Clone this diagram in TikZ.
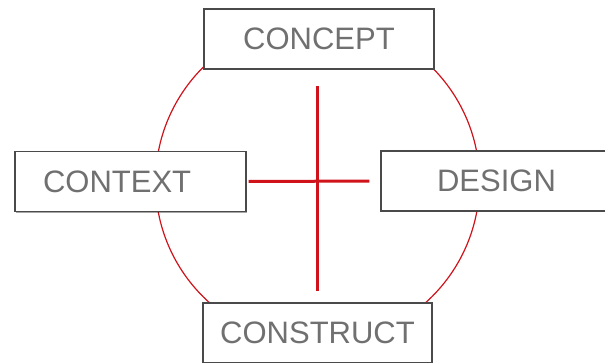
\documentclass[tikz,border=0pt]{standalone}
\usepackage{fontspec}
\setmainfont{Liberation Sans}
\usetikzlibrary{shadows}

\definecolor{ringred}{HTML}{D0121B}
\definecolor{boxgray}{HTML}{4A4A4A}
\definecolor{txtgray}{HTML}{707070}

\tikzset{
  phase/.style={draw=boxgray, line width=1.3pt, fill=white, minimum width=230pt, minimum height=60pt,
    inner sep=0pt, text=txtgray, font=\fontsize{31}{36}\selectfont,
    drop shadow={shadow xshift=1.2pt, shadow yshift=-1.2pt, fill=black, opacity=0.35}},
  ring/.style={draw=ringred, line width=1.2pt},
  bar/.style={draw=ringred, line width=3pt}
}

\begin{document}
\begin{tikzpicture}[x=1pt, y=-1pt]
\useasboundingbox (0,0) rectangle (605,362);
\coordinate (hub) at (317.5,182);
\draw[ring] (hub) circle (162pt);
\node (concept) at (319,39) [phase] {CONCEPT};
\node (context) at (130.5,181.5) [phase, minimum width=231pt, text width=175pt, align=left, inner xsep=28pt] {CONTEXT};
\node (design) at (496.5,181) [phase, minimum width=231pt] {DESIGN};
\node (construct) at (317.5,333) [phase, minimum width=229pt] {CONSTRUCT};
\draw[bar, shorten <=16pt, shorten >=11pt] (concept.south -| 317,0) -- (construct.north -| 317,0);
\draw[bar, shorten <=2pt, shorten >=11pt] (context.east) -- (design.west);
\end{tikzpicture}
\end{document}
